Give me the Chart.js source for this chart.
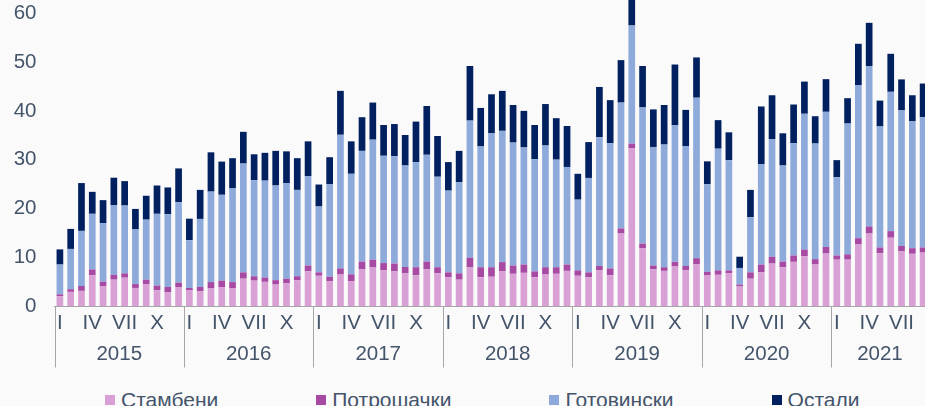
<!DOCTYPE html>
<html>
<head>
<meta charset="utf-8">
<script src="https://cdn.jsdelivr.net/npm/chart.js@4.4.1/dist/chart.umd.min.js"></script>
<style>
  html, body { margin: 0; padding: 0; background: #fafafa; overflow: hidden; width: 925px; height: 406px; }
  #wrap { position: absolute; left: 0; top: -17.5px; width: 930px; height: 397.5px; }
  #legend { position: absolute; left: 105px; top: 389px; display: flex; white-space: nowrap;
            font-family: "Liberation Sans", Arial, sans-serif; font-size: 21px; line-height: 21px; color: #44546a; }
  #legend .item { display: flex; align-items: center; margin-right: 98px; }
  #legend .box { width: 10px; height: 10px; margin-right: 6px; }
</style>
</head>
<body>
<div id="wrap"><canvas id="c"></canvas></div>
<div id="legend"></div>
<script>
// ---- data ----
const years = ['2015', '2016', '2017', '2018', '2019', '2020', '2021'];
const monthsInYear = [12, 12, 12, 12, 12, 12, 9];
const monthNames = ['I', 'II', 'III', 'IV', 'V', 'VI', 'VII', 'VIII', 'IX', 'X', 'XI', 'XII'];
const shownMonths = ['I', 'IV', 'VII', 'X'];
const seriesNames = ['Стамбени', 'Потрошачки', 'Готовински', 'Остали'];
const yTickValues = [0, 10, 20, 30, 40, 50, 60];

const stambeni = [
  2.0, 2.9, 3.1, 6.3, 4.1, 5.4, 5.8, 3.7, 4.5, 3.2, 2.8, 3.9,
  3.2, 3.0, 3.6, 3.9, 3.6, 5.6, 5.2, 4.95, 4.4, 4.7, 5.3, 7.1,
  6.2, 5.1, 6.45, 5.1, 7.5, 7.9, 7.3, 7.1, 6.7, 6.3, 7.5, 6.7,
  5.9, 5.4, 7.9, 5.9, 6.0, 7.1, 6.6, 6.8, 5.9, 6.45, 6.6, 7.2,
  6.2, 5.9, 7.3, 6.3, 14.85, 32.3, 11.8, 7.5, 7.2, 8.1, 7.3, 8.6,
  6.25, 6.4, 6.7, 4.1, 5.6, 6.9, 8.7, 7.95, 9.05, 10.2, 8.5, 10.75,
  9.5, 9.5, 12.6, 14.85, 10.8, 14.0, 11.2, 10.7, 10.95
];
const potrosacki = [
  0.4, 0.55, 1.0, 1.2, 0.9, 1.0, 0.9, 0.8, 0.9, 1.0, 1.1, 0.9,
  0.5, 0.9, 1.3, 1.3, 1.3, 1.3, 0.9, 0.9, 0.9, 0.9, 0.8, 1.2,
  0.7, 0.9, 1.25, 1.4, 1.6, 1.6, 1.5, 1.6, 1.3, 1.65, 1.6, 1.25,
  1.0, 1.3, 2.0, 2.05, 1.95, 1.9, 1.7, 1.7, 1.2, 1.5, 1.35, 1.3,
  1.1, 1.0, 0.9, 1.4, 1.05, 1.0, 1.0, 0.8, 0.75, 0.95, 0.9, 1.2,
  0.75, 0.9, 0.6, 0.3, 1.3, 1.6, 1.4, 1.15, 1.3, 1.35, 1.1, 1.35,
  0.85, 1.1, 1.3, 1.45, 1.2, 1.35, 1.1, 1.15, 1.05
];
const gotovinski = [
  6.1, 8.25, 11.3, 11.4, 12.0, 14.3, 13.9, 11.2, 12.3, 14.7, 14.9, 16.5,
  9.8, 13.95, 18.55, 17.6, 19.2, 22.3, 19.7, 19.85, 19.4, 19.6, 17.7, 18.35,
  13.5, 19.0, 27.4, 20.6, 22.7, 24.6, 22.0, 22.0, 20.8, 21.55, 21.9, 18.55,
  16.75, 18.7, 28.1, 24.75, 27.45, 26.9, 25.2, 24.0, 23.0, 24.95, 22.05, 20.0,
  14.5, 19.35, 26.4, 25.7, 25.8, 24.2, 27.9, 24.3, 25.15, 28.05, 24.6, 32.9,
  17.95, 24.95, 22.6, 3.4, 11.3, 20.6, 24.1, 19.7, 23.05, 27.85, 23.7, 27.7,
  16.05, 26.8, 31.4, 32.9, 24.8, 28.55, 27.8, 26.0, 26.7
];
const ostali = [
  3.1, 4.1, 9.8, 4.5, 4.7, 5.6, 5.0, 4.2, 4.9, 5.8, 5.5, 6.9,
  4.4, 5.95, 8.05, 6.8, 6.2, 6.5, 5.3, 5.7, 7.1, 6.5, 6.5, 7.1,
  4.5, 5.5, 9.0, 6.65, 6.9, 7.6, 6.3, 6.6, 6.25, 8.3, 10.0, 8.35,
  5.85, 6.4, 11.2, 7.9, 8.0, 8.2, 7.7, 7.5, 7.0, 8.5, 8.5, 8.4,
  5.3, 7.35, 10.3, 8.8, 8.7, 6.0, 8.5, 7.7, 8.1, 12.4, 7.4, 8.25,
  4.7, 5.85, 5.7, 2.3, 5.6, 11.8, 9.0, 6.6, 7.9, 6.6, 5.6, 6.7,
  3.5, 5.2, 8.45, 8.85, 5.3, 7.8, 6.35, 5.35, 6.9
];

// ---- styling ----
const colors = ['#d8a0d4', '#a64aa3', '#8eaadb', '#002060'];
const textColor = '#44546a';
const fontFamily = '"Liberation Sans", Arial, sans-serif';

// categories built from years and months
const labels = [];
const yearStarts = [];
years.forEach((y, k) => {
  yearStarts.push(labels.length);
  for (let m = 0; m < monthsInYear[k]; m++) labels.push(monthNames[m] + '.' + y);
});
const totalMonths = labels.length;
const yearCenters = yearStarts.map((s, k) => s + monthsInYear[k] / 2);

const seriesData = [stambeni, potrosacki, gotovinski, ostali];
const datasets = seriesNames.map((name, i) => ({
  label: name,
  data: seriesData[i],
  backgroundColor: colors[i],
  borderWidth: 0,
  barPercentage: 0.62,
  categoryPercentage: 1.0,
  clip: false,
  xAxisID: 'x',
  yAxisID: 'y'
}));

const separatorPlugin = {
  id: 'yearSeparators',
  afterDraw(chart) {
    const x2 = chart.scales.x2;
    const bottom = chart.chartArea.bottom;
    const ctx = chart.ctx;
    ctx.save();
    ctx.strokeStyle = '#a6a6a6';
    ctx.lineWidth = 1;
    const bounds = yearStarts.concat([totalMonths]);
    bounds.forEach(v => {
      const px = Math.round(x2.getPixelForValue(v)) + 0.5;
      ctx.beginPath();
      ctx.moveTo(px, bottom);
      ctx.lineTo(px, bottom + 61.5);
      ctx.stroke();
    });
    ctx.restore();
  }
};

new Chart(document.getElementById('c'), {
  type: 'bar',
  data: { labels, datasets },
  plugins: [separatorPlugin],
  options: {
    responsive: true,
    maintainAspectRatio: false,
    animation: false,
    layout: { padding: { left: 0, right: 1.5, top: 0, bottom: 0 } },
    plugins: { legend: { display: false }, tooltip: { enabled: false } },
    scales: {
      x: {
        stacked: true,
        offset: true,
        position: 'bottom',
        grid: { display: false, drawTicks: false },
        border: { display: true, color: '#a6a6a6', width: 1 },
        afterFit(s) { s.height = 30.5; },
        ticks: {
          autoSkip: false, maxRotation: 0, minRotation: 0, padding: 5,
          color: textColor, font: { family: fontFamily, size: 20.5 },
          callback(value, index) {
            const name = labels[index].split('.')[0];
            return shownMonths.includes(name) ? name : '';
          }
        }
      },
      x2: {
        type: 'linear',
        position: 'bottom',
        min: 0,
        max: totalMonths,
        offset: false,
        grid: { display: false, drawTicks: false },
        border: { display: false },
        afterFit(s) { s.height = 44; },
        afterBuildTicks(s) { s.ticks = yearCenters.map(v => ({ value: v })); },
        ticks: {
          autoSkip: false, maxRotation: 0, minRotation: 0, padding: 6,
          color: textColor, font: { family: fontFamily, size: 20.5 },
          callback(value, index) { return years[index]; }
        }
      },
      y: {
        stacked: true,
        min: yTickValues[0],
        max: yTickValues[yTickValues.length - 1],
        grid: { display: false, drawTicks: false },
        border: { display: false },
        afterFit(s) { s.width = 54.5; },
        afterBuildTicks(s) { s.ticks = yTickValues.map(v => ({ value: v })); },
        ticks: {
          padding: 18,
          color: textColor, font: { family: fontFamily, size: 20.5 }
        }
      }
    }
  }
});

// legend built from the series names and colours
const legendEl = document.getElementById('legend');
seriesNames.forEach((name, i) => {
  const item = document.createElement('div');
  item.className = 'item';
  const box = document.createElement('span');
  box.className = 'box';
  box.style.background = colors[i];
  const txt = document.createElement('span');
  txt.textContent = name;
  item.appendChild(box);
  item.appendChild(txt);
  legendEl.appendChild(item);
});
</script>
</body>
</html>
